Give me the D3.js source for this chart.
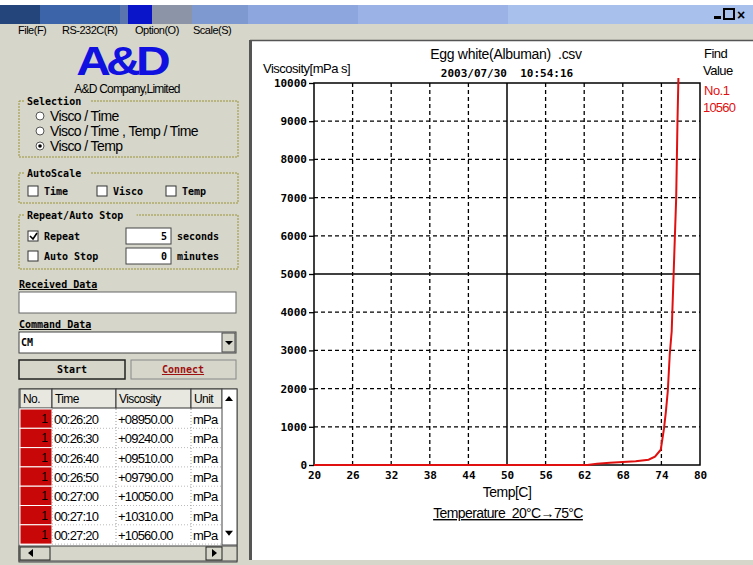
<!DOCTYPE html>
<html>
<head>
<meta charset="utf-8">
<script src="https://cdn.jsdelivr.net/npm/d3@7"></script>
<style>
  body { margin: 0; background: #fff; }
  svg text { font-family: 'Liberation Sans', Arial, sans-serif; white-space: pre; }
  .mono { font-family: 'DejaVu Sans Mono', monospace; font-weight: bold; }
</style>
</head>
<body>
<div id="chart"></div>
<script>
// chart data
var tempTicks = [20, 26, 32, 38, 44, 50, 56, 62, 68, 74, 80]
var viscTicks = [0, 1000, 2000, 3000, 4000, 5000, 6000, 7000, 8000, 9000, 10000]
var curveTemp = [20, 30, 40, 50, 60, 62.5, 64, 66, 68, 70, 72, 73, 73.9, 74.4, 74.7, 75.0, 75.3, 75.6, 75.9, 76.1, 76.3, 76.4, 76.5, 76.7]
var curveVisc = [0, 0, 0, 0, 0, 0, 30, 60, 80, 100, 140, 220, 400, 950, 1400, 1950, 2900, 3500, 5000, 6000, 7000, 8000, 9000, 10560]

// table data
var rowNo = ['1', '1', '1', '1', '1', '1', '1']
var rowTime = ['00:26:20', '00:26:30', '00:26:40', '00:26:50', '00:27:00', '00:27:10', '00:27:20']
var rowVisc = ['+08950.00', '+09240.00', '+09510.00', '+09790.00', '+10050.00', '+10310.00', '+10560.00']
var rowUnit = ['mPa', 'mPa', 'mPa', 'mPa', 'mPa', 'mPa', 'mPa']

var menuItems = ['File(F)', 'RS-232C(R)', 'Option(O)', 'Scale(S)']
var menuX = [18, 62, 135, 193]
var selectionOptions = ['Visco / Time', 'Visco / Time , Temp / Time', 'Visco / Temp']
var autoScaleOptions = ['Time', 'Visco', 'Temp']

// title bar colour bands (x start, width, colour)
var titleBands = [
  [0, 40, '#24447c'], [40, 80, '#3c64a8'], [120, 8, '#5a74b0'], [128, 24, '#0a14c8'],
  [152, 40, '#8c94a8'], [192, 56, '#7e98d0'], [248, 110, '#8ea6de'], [358, 150, '#9ab2e6'],
  [508, 245, '#a8c0ec']
]

var W = 753
var H = 565
var panelGray = '#d6d6ca'
var groupLine = '#9a9438'

var svg = d3.select('#chart').append('svg')
  .attr('width', W)
  .attr('height', H)

// window background
svg.append('rect').attr('width', W).attr('height', H).attr('fill', panelGray)

// title bar
svg.append('rect').attr('x', 0).attr('y', 0).attr('width', W).attr('height', 5).attr('fill', '#fff')
svg.selectAll('.band')
  .data(titleBands)
  .enter()
  .append('rect')
  .attr('class', 'band')
  .attr('x', d => d[0])
  .attr('y', 5)
  .attr('width', d => d[1])
  .attr('height', 19)
  .attr('fill', d => d[2])
svg.append('rect').attr('x', 714).attr('y', 16).attr('width', 7).attr('height', 3).attr('fill', '#000')
svg.append('rect').attr('x', 724).attr('y', 9).attr('width', 10).attr('height', 10).attr('fill', 'none').attr('stroke', '#000').attr('stroke-width', 2)
svg.append('text').attr('x', 737).attr('y', 20).attr('font-size', 14).attr('font-weight', 'bold').text('×')

// menu
svg.selectAll('.menu')
  .data(menuItems)
  .enter()
  .append('text')
  .attr('class', 'menu')
  .attr('x', (d, i) => menuX[i])
  .attr('y', 34)
  .attr('font-size', 11)
  .attr('letter-spacing', -0.5)
  .text(d => d)

// logo
svg.append('text')
  .attr('transform', 'translate(121,75) scale(1.2,1)')
  .attr('text-anchor', 'middle')
  .attr('font-size', 40)
  .attr('font-weight', 'bold')
  .attr('fill', '#1010e0')
  .attr('letter-spacing', -4)
  .text('A&D')
svg.append('text')
  .attr('x', 127).attr('y', 93)
  .attr('text-anchor', 'middle')
  .attr('font-size', 12)
  .attr('letter-spacing', -0.8)
  .text('A&D Company,Limited')

// group box helper
function groupBox(x, y, w, h, label) {
  svg.append('rect')
    .attr('x', x).attr('y', y).attr('width', w).attr('height', h)
    .attr('fill', 'none')
    .attr('stroke', groupLine)
    .attr('stroke-dasharray', '2,1')
  svg.append('rect')
    .attr('x', x + 6).attr('y', y - 6).attr('width', label.length * 6.6 + 6).attr('height', 12)
    .attr('fill', panelGray)
  svg.append('text')
    .attr('class', 'mono')
    .attr('x', x + 8).attr('y', y + 4)
    .attr('font-size', 10)
    .text(label)
}

function checkBox(x, y, checked) {
  svg.append('rect')
    .attr('x', x).attr('y', y - 6).attr('width', 10).attr('height', 10)
    .attr('fill', '#fff').attr('stroke', '#333')
  if (checked) {
    svg.append('path')
      .attr('d', `M${x + 2},${y - 1} l3,3 l4,-6`)
      .attr('fill', 'none').attr('stroke', '#000').attr('stroke-width', 1.6)
  }
}

// Selection
groupBox(19, 101, 219, 56, 'Selection')
svg.selectAll('.radio')
  .data(selectionOptions)
  .enter()
  .append('g')
  .attr('class', 'radio')
  .each(function (d, i) {
    var g = d3.select(this)
    var cy = 116 + i * 15
    g.append('circle').attr('cx', 40).attr('cy', cy).attr('r', 4)
      .attr('fill', '#fff').attr('stroke', '#555')
    if (i === 2) g.append('circle').attr('cx', 40).attr('cy', cy).attr('r', 1.8).attr('fill', '#000')
    g.append('text').attr('x', 50).attr('y', cy + 5).attr('font-size', 14)
      .attr('letter-spacing', -0.6).text(d)
  })

// AutoScale
groupBox(19, 173, 219, 30, 'AutoScale')
autoScaleOptions.forEach((d, i) => {
  var x = [28, 97, 166][i]
  checkBox(x, 192, false)
  svg.append('text').attr('class', 'mono').attr('x', x + 16).attr('y', 195)
    .attr('font-size', 10).text(d)
})

// Repeat / Auto Stop
groupBox(19, 215, 219, 54, 'Repeat/Auto Stop')
checkBox(28, 237, true)
checkBox(28, 257, false)
svg.append('text').attr('class', 'mono').attr('x', 44).attr('y', 240).attr('font-size', 10).text('Repeat')
svg.append('text').attr('class', 'mono').attr('x', 44).attr('y', 260).attr('font-size', 10).text('Auto Stop')
svg.append('rect').attr('x', 126).attr('y', 228).attr('width', 45).attr('height', 16).attr('fill', '#fff').attr('stroke', '#444')
svg.append('rect').attr('x', 126).attr('y', 248).attr('width', 45).attr('height', 16).attr('fill', '#fff').attr('stroke', '#444')
svg.append('text').attr('class', 'mono').attr('x', 167).attr('y', 240).attr('text-anchor', 'end').attr('font-size', 10).text('5')
svg.append('text').attr('class', 'mono').attr('x', 167).attr('y', 260).attr('text-anchor', 'end').attr('font-size', 10).text('0')
svg.append('text').attr('class', 'mono').attr('x', 177).attr('y', 240).attr('font-size', 10).text('seconds')
svg.append('text').attr('class', 'mono').attr('x', 177).attr('y', 260).attr('font-size', 10).text('minutes')

// Received / Command data
svg.append('text').attr('class', 'mono').attr('x', 19).attr('y', 288).attr('font-size', 10)
  .attr('text-decoration', 'underline').text('Received Data')
svg.append('rect').attr('x', 19).attr('y', 292).attr('width', 217).attr('height', 21).attr('fill', '#fff').attr('stroke', '#666')
svg.append('text').attr('class', 'mono').attr('x', 19).attr('y', 328).attr('font-size', 10)
  .attr('text-decoration', 'underline').text('Command Data')
svg.append('rect').attr('x', 19).attr('y', 332).attr('width', 217).attr('height', 21).attr('fill', '#fff').attr('stroke', '#444')
svg.append('text').attr('class', 'mono').attr('x', 21).attr('y', 346).attr('font-size', 10).text('CM')
svg.append('rect').attr('x', 222).attr('y', 333).attr('width', 13).attr('height', 19).attr('fill', panelGray).attr('stroke', '#444')
svg.append('path').attr('d', 'M225,341 h8 l-4,4 z').attr('fill', '#000')

// buttons
svg.append('rect').attr('x', 19).attr('y', 360).attr('width', 106).attr('height', 19).attr('fill', panelGray).attr('stroke', '#222').attr('stroke-width', 1.5)
svg.append('text').attr('class', 'mono').attr('x', 72).attr('y', 373).attr('text-anchor', 'middle').attr('font-size', 10).text('Start')
svg.append('rect').attr('x', 131).attr('y', 360).attr('width', 105).attr('height', 19).attr('fill', panelGray).attr('stroke', '#888')
svg.append('text').attr('class', 'mono').attr('x', 183).attr('y', 373).attr('text-anchor', 'middle').attr('font-size', 10)
  .attr('fill', '#a01010').attr('text-decoration', 'underline').text('Connect')

// table
var colX = [20, 52, 116, 191, 222]
var colW = [32, 64, 75, 31]
var rowH = 19.3
var tableTop = 389
var headTop = tableTop
var bodyTop = 409
svg.append('rect').attr('x', 19).attr('y', tableTop).attr('width', 218).attr('height', 173).attr('fill', '#fff').attr('stroke', '#444')
var headers = ['No.', 'Time', 'Viscosity', 'Unit']
headers.forEach((h, i) => {
  svg.append('rect').attr('x', colX[i]).attr('y', headTop).attr('width', colW[i]).attr('height', 19)
    .attr('fill', '#e8e8e0').attr('stroke', '#333')
  svg.append('text').attr('x', colX[i] + 3).attr('y', headTop + 14).attr('font-size', 12)
    .attr('letter-spacing', -0.6).text(h)
})
var rows = svg.selectAll('.trow')
  .data(rowTime)
  .enter()
  .append('g')
  .attr('class', 'trow')
  .attr('transform', (d, i) => `translate(0,${bodyTop + i * rowH})`)
rows.append('rect').attr('x', colX[0]).attr('y', 0).attr('width', colW[0]).attr('height', rowH)
  .attr('fill', '#c80808').attr('stroke', '#fff')
rows.append('text').attr('x', colX[1] - 4).attr('y', 14).attr('text-anchor', 'end').attr('font-size', 12)
  .text((d, i) => rowNo[i])
rows.append('text').attr('x', colX[1] + 2).attr('y', 15).attr('font-size', 13).attr('letter-spacing', -0.8).text(d => d)
rows.append('text').attr('x', colX[2] + 2).attr('y', 15).attr('font-size', 13).attr('letter-spacing', -0.8).text((d, i) => rowVisc[i])
rows.append('text').attr('x', colX[3] + 2).attr('y', 15).attr('font-size', 13).attr('letter-spacing', -0.8).text((d, i) => rowUnit[i])
rows.append('line').attr('x1', colX[1]).attr('x2', colX[4]).attr('y1', rowH).attr('y2', rowH)
  .attr('stroke', '#bbb').attr('stroke-dasharray', '1,2')
colX.slice(1, 4).forEach(x => {
  svg.append('line').attr('x1', x).attr('x2', x).attr('y1', bodyTop).attr('y2', bodyTop + 7 * rowH)
    .attr('stroke', '#999').attr('stroke-dasharray', '1,2')
})
// scrollbars
svg.append('rect').attr('x', 222).attr('y', headTop).attr('width', 15).attr('height', 156).attr('fill', '#fff').attr('stroke', '#444')
svg.append('path').attr('d', `M225,${headTop + 12} h8 l-4,-5 z`).attr('fill', '#000')
svg.append('path').attr('d', `M225,${bodyTop + 6 * rowH + 6} h8 l-4,5 z`).attr('fill', '#000')
svg.append('rect').attr('x', 19).attr('y', 546).attr('width', 218).attr('height', 15).attr('fill', panelGray).attr('stroke', '#444')
svg.append('rect').attr('x', 20).attr('y', 547).attr('width', 30).attr('height', 13).attr('fill', panelGray).attr('stroke', '#222')
svg.append('path').attr('d', 'M28,553 l5,-4 v8 z').attr('fill', '#000')
svg.append('rect').attr('x', 206).attr('y', 547).attr('width', 16).attr('height', 13).attr('fill', panelGray).attr('stroke', '#222')
svg.append('path').attr('d', 'M217,553 l-5,-4 v8 z').attr('fill', '#000')

// ---- chart panel ----
svg.append('rect').attr('x', 250).attr('y', 40).attr('width', 503).attr('height', 520).attr('fill', '#fff')
svg.append('line').attr('x1', 250.5).attr('x2', 250.5).attr('y1', 40).attr('y2', 560).attr('stroke', '#555').attr('stroke-width', 3)
svg.append('line').attr('x1', 250).attr('x2', 753).attr('y1', 40.5).attr('y2', 40.5).attr('stroke', '#555').attr('stroke-width', 1.5)

var plot = { left: 314, right: 700, top: 83, bottom: 465 }

var xPositionScale = d3.scaleLinear().domain([20, 80]).range([plot.left, plot.right])
var yPositionScale = d3.scaleLinear().domain([0, 10000]).range([plot.bottom, plot.top])

// grid
var chart = svg.append('g').attr('class', 'chart')
chart.selectAll('.vgrid')
  .data(tempTicks.slice(1, -1))
  .enter()
  .append('line')
  .attr('class', 'vgrid')
  .attr('x1', d => xPositionScale(d))
  .attr('x2', d => xPositionScale(d))
  .attr('y1', plot.top)
  .attr('y2', plot.bottom)
  .attr('stroke', '#000')
  .attr('stroke-width', d => (d === 50 ? 1.5 : 1.3))
  .attr('stroke-dasharray', d => (d === 50 ? null : '4,3'))

chart.selectAll('.hgrid')
  .data(viscTicks.slice(1, -1))
  .enter()
  .append('line')
  .attr('class', 'hgrid')
  .attr('x1', plot.left)
  .attr('x2', plot.right)
  .attr('y1', d => yPositionScale(d))
  .attr('y2', d => yPositionScale(d))
  .attr('stroke', '#000')
  .attr('stroke-width', d => (d === 5000 ? 1.5 : 1.3))
  .attr('stroke-dasharray', d => (d === 5000 ? null : '4,3'))

chart.append('rect')
  .attr('x', plot.left).attr('y', plot.top)
  .attr('width', plot.right - plot.left).attr('height', plot.bottom - plot.top)
  .attr('fill', 'none').attr('stroke', '#000').attr('stroke-width', 1.5)

// axes (tick labels only)
var xAxis = d3.axisBottom(xPositionScale).tickValues(tempTicks).tickSize(0).tickPadding(6)
chart.append('g')
  .attr('class', 'axis x-axis')
  .attr('transform', `translate(0,${plot.bottom})`)
  .call(xAxis)
  .call(g => g.select('.domain').remove())
  .selectAll('text')
  .attr('class', 'mono')
  .attr('font-size', 11)
  .attr('fill', '#000')

var yAxis = d3.axisLeft(yPositionScale).tickValues(viscTicks).tickFormat(d3.format('d')).tickSize(5).tickPadding(2)
chart.append('g')
  .attr('class', 'axis y-axis')
  .attr('transform', `translate(${plot.left},0)`)
  .call(yAxis)
  .call(g => g.select('.domain').remove())
  .call(g => g.selectAll('.tick line').attr('stroke', '#000').attr('stroke-width', 1.3))
  .selectAll('text')
  .attr('class', 'mono')
  .attr('font-size', 11)
  .attr('fill', '#000')

// curve
svg.append('clipPath').attr('id', 'clip')
  .append('rect').attr('x', plot.left).attr('y', plot.top - 5)
  .attr('width', plot.right - plot.left).attr('height', plot.bottom - plot.top + 6)

var line = d3.line()
  .x(d => xPositionScale(d[0]))
  .y(d => yPositionScale(d[1]))

var curve = curveTemp.map((t, i) => [t, curveVisc[i]])
chart.append('path')
  .datum(curve)
  .attr('clip-path', 'url(#clip)')
  .attr('d', line)
  .attr('fill', 'none')
  .attr('stroke', '#e01010')
  .attr('stroke-width', 2)

// chart texts
svg.append('text').attr('x', 263).attr('y', 73).attr('font-size', 13).attr('letter-spacing', -0.5).text('Viscosity[mPa s]')
svg.append('text').attr('x', 506).attr('y', 59).attr('text-anchor', 'middle').attr('font-size', 14)
  .attr('letter-spacing', -0.3).text('Egg white(Albuman)\u00a0\u00a0.csv')
svg.append('text').attr('class', 'mono').attr('x', 507).attr('y', 77).attr('text-anchor', 'middle').attr('font-size', 11)
  .attr('font-weight', 'normal').text('2003/07/30\u00a0\u00a010:54:16')
svg.append('text').attr('x', 704).attr('y', 58).attr('font-size', 13).attr('letter-spacing', -0.5).text('Find')
svg.append('text').attr('x', 703).attr('y', 75).attr('font-size', 13).attr('letter-spacing', -0.5).text('Value')
svg.append('text').attr('x', 704).attr('y', 95).attr('font-size', 13).attr('letter-spacing', -0.5).attr('fill', '#e01010').text('No.1')
svg.append('text').attr('x', 703).attr('y', 112).attr('font-size', 13).attr('letter-spacing', -0.8).attr('fill', '#e01010').text('10560')
svg.append('text').attr('x', 507).attr('y', 497).attr('text-anchor', 'middle').attr('font-size', 14)
  .attr('letter-spacing', -0.5).text('Temp[C]')
svg.append('text').attr('x', 508).attr('y', 518).attr('text-anchor', 'middle').attr('font-size', 14)
  .attr('letter-spacing', -0.6).attr('text-decoration', 'underline').text('Temperature\u00a0\u00a020°C→75°C')
</script>
</body>
</html>
